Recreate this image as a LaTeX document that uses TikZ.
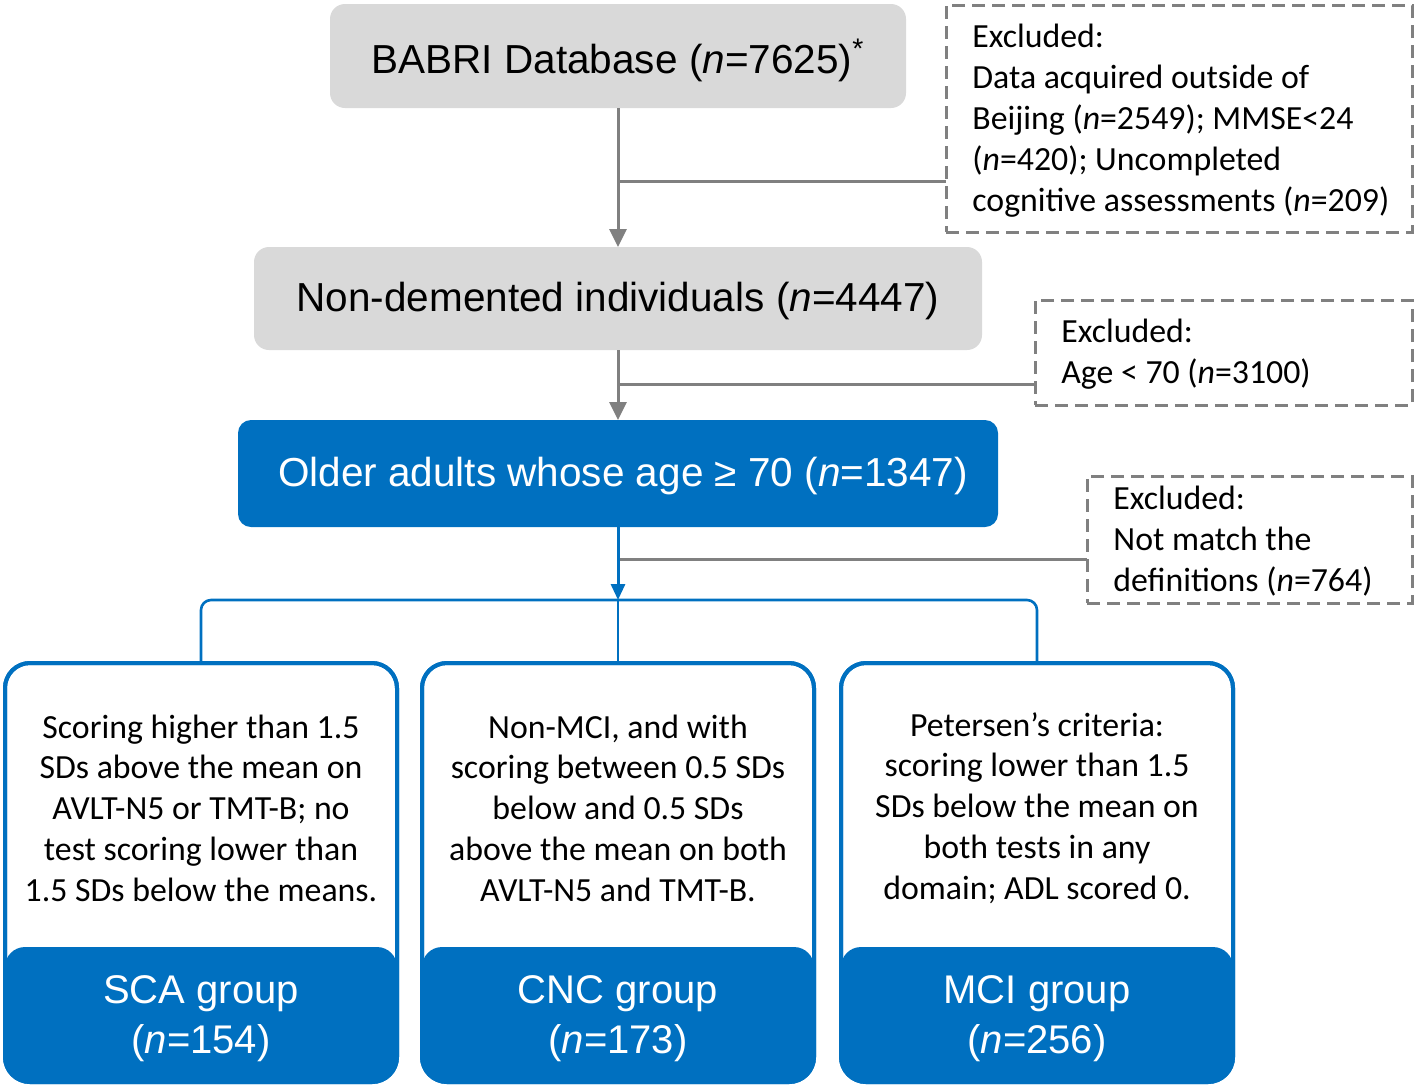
\documentclass[tikz,border=0pt]{standalone}
\usepackage{fontspec}
\setmainfont{Carlito}
\newfontfamily\arialf{Liberation Sans}
\usetikzlibrary{arrows.meta}
\definecolor{boxgray}{HTML}{D9D9D9}
\definecolor{mblue}{HTML}{0070C0}
\definecolor{lgray}{HTML}{808080}
\begin{document}
\begin{tikzpicture}[x=0.5pt,y=-0.5pt,
  graybox/.style={fill=boxgray, rounded corners=7.5pt, inner sep=0pt, outer sep=0pt,
    font=\arialf\fontsize{20.25}{24}\selectfont},
  bluebox/.style={fill=mblue, text=white, rounded corners=6.5pt, inner sep=0pt, outer sep=0pt,
    font=\arialf\fontsize{20.5}{24}\selectfont},
  exbox/.style={draw=lgray, dash pattern=on 6.5pt off 3.5pt, line width=1.5pt, inner sep=0pt, outer sep=0pt},
  extext/.style={anchor=west, align=left, inner sep=0pt, font=\fontsize{16.9}{20.5}\selectfont},
  grayline/.style={draw=lgray, line width=1.5pt},
  grayarrow/.style={grayline, -{Triangle[length=9pt,width=8.5pt]}},
  blueline/.style={draw=mblue, line width=1.3pt},
  bluearrow/.style={draw=mblue, line width=1.5pt, -{Triangle[length=8pt,width=7pt]}},
  groupbox/.style={draw=mblue, line width=2pt, fill=white, rounded corners=12.5pt,
    minimum width=196pt, minimum height=209.5pt, inner sep=0pt, outer sep=0pt},
  desc/.style={align=center, inner sep=0pt, font=\fontsize{16.9}{20.4}\selectfont},
  grouplbl/.style={text=white, align=center, inner sep=0pt, font=\arialf\fontsize{20}{25}\selectfont}
]
\useasboundingbox (0,0) rectangle (1416,1089);

% main boxes
\node[graybox, minimum width=288pt, minimum height=52pt] (b1) at (618,56) {};
\node[font=\arialf\fontsize{20.25}{24}\selectfont, inner sep=0pt] (b1t) at (618,60)
  {BABRI Database (\textit{n}=7625)\textsuperscript{*}};
\node[graybox, minimum width=364pt, minimum height=51.5pt] (b2) at (618,298.5) {};
\node[font=\arialf\fontsize{20.25}{24}\selectfont, inner sep=0pt] (b2t) at (618,301)
  {Non-demented individuals (\textit{n}=4447)};
\node[bluebox, minimum width=380pt, minimum height=53.5pt] (b3) at (618,473.5) {};
\node[font=\arialf\fontsize{20.25}{24}\selectfont, text=white, inner sep=0pt] (b3t) at (623,476)
  {Older adults whose age ≥ 70 (\textit{n}=1347)};

% excluded boxes
\node[exbox, minimum width=233pt, minimum height=113.5pt] (ex1) at (1179,118.5) {};
\node[extext] (ex1t) at ([xshift=13pt,yshift=-1pt]ex1.west)
  {Excluded:\\Data acquired outside of\\Beijing (\textit{n}=2549); MMSE<24\\(\textit{n}=420); Uncompleted\\cognitive assessments (\textit{n}=209)};
\node[exbox, minimum width=188.5pt, minimum height=52.5pt] (ex2) at (1223.5,352.5) {};
\node[extext] (ex2t) at ([xshift=13pt,yshift=-1pt]ex2.west)
  {Excluded:\\Age < 70 (\textit{n}=3100)};
\node[exbox, minimum width=162.5pt, minimum height=63.5pt] (ex3) at (1249.5,539.5) {};
\node[extext] (ex3t) at ([xshift=13pt,yshift=-1pt]ex3.west)
  {Excluded:\\Not match the\\definitions (\textit{n}=764)};

% group boxes
\node[groupbox] (sca) at (201,872.5) {};
\node[groupbox] (cnc) at (618,872.5) {};
\node[groupbox] (mci) at (1037,872.5) {};
\foreach \g in {sca,cnc,mci}{
  \begin{scope}
    \clip[rounded corners=12.5pt] (\g.north west) rectangle (\g.south east);
    \fill[mblue, rounded corners=10pt] ([yshift=67.5pt]\g.south west) rectangle ([yshift=-20pt]\g.south east);
  \end{scope}
  \draw[mblue, line width=2pt, rounded corners=12.5pt] (\g.north west) rectangle (\g.south east);
}
\node[desc] (scad) at (201,808) {Scoring higher than 1.5\\SDs above the mean on\\AVLT-N5 or TMT-B; no\\test scoring lower than\\1.5 SDs below the means.};
\node[desc] (cncd) at (618,808) {Non-MCI, and with\\scoring between 0.5 SDs\\below and 0.5 SDs\\above the mean on both\\AVLT-N5 and TMT-B.};
\node[desc] (mcid) at (1037,808) {Petersen’s criteria:\\scoring lower than 1.5\\SDs below the mean on\\both tests in any\\domain; ADL scored 0.};
\node[grouplbl] (scal) at (201,1019) {SCA group\\(\textit{n}=154)};
\node[grouplbl] (cncl) at (618,1019) {CNC group\\(\textit{n}=173)};
\node[grouplbl] (mcil) at (1037,1019) {MCI group\\(\textit{n}=256)};

% connectors
\draw[grayarrow] (b1.south) -- (b2.north);
\coordinate (j1) at (618,181);
\draw[grayline] (j1) -- (j1 -| ex1.west);
\draw[grayarrow] (b2.south) -- (b3.north);
\coordinate (j2) at (618,384);
\draw[grayline] (j2) -- (j2 -| ex2.west);
\coordinate (split) at (618,600);
\coordinate (j3) at (618,559);
\draw[grayline] (j3) -- (j3 -| ex3.west);
\draw[bluearrow] (b3.south) -- (split);
\draw[blueline, rounded corners=5pt] (sca.north) |- (split) -| (mci.north);
\draw[blueline] (split) -- (cnc.north);
\end{tikzpicture}
\end{document}
